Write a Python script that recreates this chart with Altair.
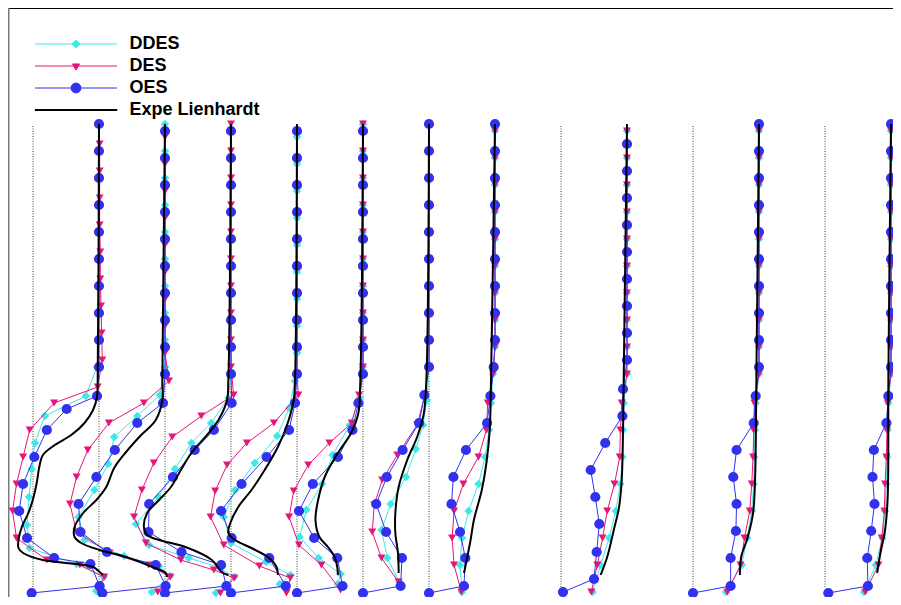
import altair as alt
import pandas as pd

# ---------------- data ----------------
SERIES = ["DDES", "DES", "OES", "Expe Lienhardt"]
COLORS = ["#3ee8e8", "#e6157a", "#3232ee", "#000000"]

# streamwise station positions (profile origin, in units of the velocity scale)
STATION_POS = [0, 1, 2, 3, 4, 5, 6, 8, 10, 12]

# height levels of the upper (free-stream) part of the profiles
GA = [46.9, 44.2, 41.5, 38.8, 36.1, 33.4, 30.7, 28.0, 25.3, 22.6]
GB = [46.2, 43.5, 40.8, 38.1, 35.4, 32.7, 30.0, 27.3, 24.6, 21.9]
GC = [44.9, 42.2, 39.5, 36.8, 34.1, 31.4, 28.7, 26.0, 23.3]
GD = [45.6, 42.9, 40.2, 37.5, 34.8, 32.1, 29.4, 26.7, 24.0]
U10 = [1.0, 1.0, 1.0, 1.0, 1.0, 1.0, 1.0, 1.0, 1.0, 1.0]
U9 = [1.0, 1.0, 1.0, 1.0, 1.0, 1.0, 1.0, 1.0, 1.0]
LOW8 = [19.0, 16.3, 13.6, 10.9, 8.2, 5.5, 2.8, 0.1]

S0 = {
    "OES": (GA + [19.7, 18.4, 16.3, 13.6, 10.9, 8.2, 5.5, 3.5, 2.9, 0.7, 0.0],
            U10 + [0.97, 0.51, 0.21, 0.02, -0.15, -0.21, -0.09, 0.32, 0.87, 1.01, -0.02]),
    "DES": (GC + [20.6, 19.0, 16.3, 13.6, 10.9, 8.2, 5.5, 3.3, 2.8, 1.6, 0.4],
            [1.01, 1.01, 1.01, 1.01, 1.02, 1.02, 1.03, 1.04, 1.05]
            + [0.98, 0.32, -0.05, -0.15, -0.25, -0.31, -0.25, 0.21, 0.71, 1.08, 0.98]),
    "DDES": (GA + [19.7, 17.7, 15.0, 12.4, 9.6, 6.8, 4.5, 2.9, 1.6, 0.2],
             U9 + [0.97] + [0.80, 0.18, 0.03, -0.02, -0.06, -0.09, -0.05, 0.66, 1.07, 0.96]),
    "Expe Lienhardt": ([46.9, 21.3, 19.6, 18.3, 17.0, 15.8, 14.8, 13.8, 12.6, 11.0, 9.5, 8.0,
                        6.6, 5.3, 4.5, 4.0, 3.3, 2.9, 2.6, 2.1, 1.8],
                       [1.0, 0.98, 0.97, 0.91, 0.78, 0.58, 0.33, 0.15, 0.095, 0.056, 0.005, -0.07,
                        -0.17, -0.22, -0.22, -0.15, 0.15, 0.66, 0.91, 1.01, 1.06]),
}
S1 = {
    "OES": (GB + [19.0, 17.0, 14.3, 11.6, 8.9, 6.1, 4.1, 2.8, 0.7, 0.0],
            U10 + [0.97, 0.58, 0.24, -0.04, -0.31, -0.28, 0.12, 0.86, 1.01, 0.05]),
    "DES": (GD + [21.2, 19.0, 17.0, 14.3, 11.6, 8.9, 6.1, 4.0, 2.8, 1.6, 0.1],
            U9 + [1.06, 0.68, 0.15, -0.17, -0.34, -0.44, -0.34, 0.16, 0.75, 1.08, 0.89]),
    "DDES": (GA + [19.8, 17.7, 15.6, 12.9, 10.3, 7.6, 5.3, 3.7, 2.7, 1.7, 0.1],
             U10 + [0.92, 0.58, 0.23, 0.14, -0.07, -0.31, -0.22, 0.38, 0.91, 1.08, 0.80]),
    "Expe Lienhardt": ([46.9, 21.3, 19.3, 17.3, 15.6, 14.1, 12.5, 10.6, 9.3, 8.0, 6.6, 5.6,
                        5.0, 4.3, 3.6, 2.6, 2.0, 1.6],
                       [1.0, 0.96, 0.96, 0.86, 0.61, 0.41, 0.23, 0.11, -0.04, -0.24, -0.37, -0.37,
                        -0.27, 0.01, 0.41, 0.81, 1.01, 1.03]),
}
S2 = {
    "OES": (GB + [19.0, 16.3, 14.3, 11.6, 8.9, 6.1, 4.1, 2.8, 0.7, 0.0],
            U10 + [1.01, 0.74, 0.45, 0.12, -0.24, -0.25, 0.25, 0.85, 0.93, 0.0]),
    "DES": (GA + [19.8, 17.7, 15.6, 13.0, 10.3, 7.6, 5.0, 3.3, 2.3, 1.5, 0.0],
            U10 + [1.04, 0.55, 0.11, -0.17, -0.35, -0.47, -0.29, 0.24, 0.74, 1.05, 0.84]),
    "DDES": (GB + [19.5, 17.0, 15.0, 12.4, 9.6, 6.9, 4.8, 3.5, 2.6, 1.6, 0.0],
             U10 + [0.96, 0.70, 0.40, 0.15, -0.10, -0.44, -0.24, 0.36, 0.81, 1.05, 0.77]),
    "Expe Lienhardt": ([46.9, 21.3, 19.3, 17.3, 15.6, 14.1, 12.3, 10.6, 9.3, 8.0, 6.6, 5.8,
                        5.3, 4.6, 3.3, 2.1, 1.8],
                       [1.0, 0.96, 0.94, 0.81, 0.61, 0.41, 0.24, 0.09, -0.09, -0.27, -0.32, -0.27,
                        -0.09, 0.31, 0.71, 0.86, 0.96]),
}
S3 = {
    "OES": (GB + [19.0, 16.3, 13.6, 10.9, 8.2, 5.5, 3.5, 0.7, 0.0],
            U10 + [0.97, 0.88, 0.54, 0.16, -0.15, 0.01, 0.58, 0.83, 0.0]),
    "DES": (GB + [19.8, 17.0, 15.0, 12.8, 10.2, 7.6, 4.8, 2.7, 1.5, 0.0],
            U10 + [1.02, 0.65, 0.24, -0.06, -0.24, -0.31, -0.11, 0.43, 0.90, 0.84]),
    "DDES": (GD + [21.2, 18.5, 15.7, 13.0, 10.3, 7.6, 5.0, 3.1, 1.8, 0.9],
             U9 + [0.97, 0.88, 0.70, 0.36, 0.06, -0.11, 0.0, 0.53, 0.90, 0.74]),
    "Expe Lienhardt": ([46.9, 21.3, 19.3, 17.0, 14.6, 12.3, 10.3, 8.6, 7.0, 6.0, 5.3, 4.5,
                        3.6, 2.6, 1.8],
                       [1.0, 0.97, 0.95, 0.86, 0.71, 0.51, 0.31, 0.11, -0.01, -0.04, 0.06, 0.31,
                        0.56, 0.69, 0.71]),
}
S4 = {
    "OES": (GB + [19.0, 16.3, 13.6, 10.9, 8.2, 5.5, 3.5, 0.7, 0.0],
            U10 + [0.93, 0.84, 0.62, 0.24, 0.03, 0.26, 0.61, 0.69, 0.0]),
    "DES": (GA + [19.8, 17.0, 15.0, 12.8, 10.2, 7.6, 4.8, 2.8, 0.3],
            U10 + [0.94, 0.83, 0.49, 0.17, -0.05, -0.12, 0.03, 0.37, 0.66]),
    "DDES": (GA + [19.5, 16.8, 13.8, 10.9, 8.3, 5.6, 3.5, 1.9, 0.9],
             U10 + [0.95, 0.80, 0.54, 0.38, 0.14, 0.04, 0.33, 0.66, 0.62]),
    "Expe Lienhardt": ([46.9, 21.3, 18.0, 16.0, 14.0, 11.6, 9.3, 7.3, 5.6, 4.6, 3.6, 2.6, 1.8],
                       [1.0, 0.96, 0.93, 0.82, 0.62, 0.42, 0.32, 0.28, 0.34, 0.47, 0.57, 0.61, 0.62]),
}
S5 = {
    "OES": (GA + [19.8, 17.0, 14.3, 11.6, 8.9, 6.1, 3.5, 0.7, 0.0],
            U10 + [0.93, 0.85, 0.60, 0.36, 0.20, 0.35, 0.59, 0.57, 0.0]),
    "DES": (GA + [19.8, 16.8, 13.8, 11.3, 8.8, 6.1, 3.5, 1.1],
            U10 + [0.94, 0.82, 0.52, 0.29, 0.17, 0.14, 0.28, 0.54]),
    "DDES": (GA + [19.3, 16.8, 14.4, 11.6, 8.9, 6.3, 3.5, 1.1],
             U10 + [0.97, 0.91, 0.80, 0.65, 0.42, 0.28, 0.37, 0.55]),
    "Expe Lienhardt": ([46.9, 21.3, 17.9, 15.6, 13.3, 10.6, 8.0, 6.0, 4.0, 2.0],
                       [1.0, 0.96, 0.92, 0.82, 0.67, 0.54, 0.49, 0.49, 0.53, 0.54]),
}
S6 = {
    "OES": (GA + [19.7, 17.0, 14.3, 11.6, 8.9, 6.1, 3.5, 0.7, 0.0],
            U9 + [0.98] + [0.93, 0.88, 0.56, 0.37, 0.34, 0.47, 0.55, 0.53, 0.0]),
    "DES": (GB + LOW8,
            U9 + [0.97] + [0.89, 0.87, 0.75, 0.52, 0.38, 0.35, 0.38, 0.49]),
    "DDES": (GB + LOW8,
             U9 + [0.97] + [0.94, 0.91, 0.85, 0.75, 0.60, 0.50, 0.47, 0.50]),
    "Expe Lienhardt": ([46.9, 21.3, 16.3, 13.0, 10.3, 7.3, 5.3, 3.6, 2.0],
                       [1.0, 0.94, 0.92, 0.87, 0.80, 0.68, 0.63, 0.58, 0.53]),
}
S7 = {
    "OES": (GC + [20.4, 17.7, 15.0, 12.3, 9.6, 6.9, 4.1, 1.4, 0.1],
            U9 + [0.94, 0.93, 0.67, 0.45, 0.52, 0.58, 0.54, 0.50, 0.03]),
    "DES": (GB + LOW8, U10 + [0.92, 0.90, 0.89, 0.81, 0.70, 0.63, 0.55, 0.46]),
    "DDES": (GB + LOW8, U10 + [0.95, 0.94, 0.93, 0.90, 0.83, 0.73, 0.60, 0.48]),
    "Expe Lienhardt": ([46.9, 21.3, 16.3, 11.3, 8.6, 6.3, 3.6, 1.8],
                       [1.0, 0.95, 0.94, 0.92, 0.88, 0.80, 0.70, 0.60]),
}
S8 = {
    "OES": (GA + [19.7, 17.0, 14.3, 11.6, 8.9, 6.2, 3.5, 0.7, 0.0],
            U10 + [0.95, 0.92, 0.66, 0.61, 0.66, 0.65, 0.57, 0.57, 0.0]),
    "DES": (GB + LOW8, U10 + [0.93, 0.92, 0.91, 0.89, 0.86, 0.78, 0.72, 0.52]),
    "DDES": (GB + LOW8, U10 + [0.95, 0.94, 0.93, 0.92, 0.89, 0.82, 0.74, 0.50]),
    "Expe Lienhardt": ([46.9, 21.3, 11.3, 8.0, 5.6, 3.6, 1.8],
                       [1.0, 0.96, 0.94, 0.91, 0.83, 0.73, 0.71]),
}
S9 = {
    "OES": (GA + [19.7, 17.0, 14.3, 11.6, 8.9, 6.2, 3.5, 0.7, 0.0],
            U10 + [0.96, 0.93, 0.74, 0.72, 0.75, 0.70, 0.64, 0.65, 0.05]),
    "DES": (GB + LOW8, U10 + [0.95, 0.94, 0.93, 0.91, 0.90, 0.86, 0.81, 0.61]),
    "DDES": (GB + LOW8, U10 + [0.96, 0.95, 0.94, 0.93, 0.91, 0.87, 0.77, 0.59]),
    "Expe Lienhardt": ([46.9, 21.3, 9.6, 6.3, 4.0, 2.0],
                       [1.0, 0.96, 0.95, 0.91, 0.84, 0.79]),
}
PROFILES = [S0, S1, S2, S3, S4, S5, S6, S7, S8, S9]

# dotted reference line (u = 0) extent
DOT_TOP = 46.7
DOT_BOTTOM = 0.5

# ---------------- build table ----------------
rows = []
for sid, (pos, prof) in enumerate(zip(STATION_POS, PROFILES)):
    for ser in SERIES:
        hs, us = prof[ser]
        if len(hs) != len(us):
            raise ValueError(f"length mismatch station {sid} {ser}: {len(hs)} vs {len(us)}")
        for i, (hh, uu) in enumerate(zip(hs, us)):
            rows.append({"station": sid, "series": ser, "idx": i, "h": hh, "x": pos + uu})
df = pd.DataFrame(rows)

dots = pd.DataFrame({"x": STATION_POS, "top": [DOT_TOP] * len(STATION_POS),
                     "bottom": [DOT_BOTTOM] * len(STATION_POS)})

W, H = 885, 585
XDOM = [-0.3788, 13.0303]
YDOM = [0.0, 58.5]
X = alt.X("x:Q", scale=alt.Scale(domain=XDOM, nice=False, zero=False), axis=None)
Y = alt.Y("h:Q", scale=alt.Scale(domain=YDOM, nice=False, zero=False), axis=None)

one = pd.DataFrame({"a": [0]})
frame_top = alt.Chart(one).mark_rule(color="black", strokeWidth=1).encode(
    x=alt.value(0), x2=alt.value(W), y=alt.value(0.5))
frame_left = alt.Chart(one).mark_rule(color="#7a7a7a", strokeWidth=1.5).encode(
    x=alt.value(0.75), y=alt.value(0), y2=alt.value(H + 4))

dotted = alt.Chart(dots).mark_rule(color="#3a3a3a", strokeWidth=1, strokeDash=[1, 1.5]).encode(
    x=X, y=alt.Y("top:Q", scale=alt.Scale(domain=YDOM, nice=False, zero=False), axis=None),
    y2="bottom:Q")

MARK = {"DDES": ("diamond", 72), "DES": ("triangle-down", 64), "OES": ("circle", 104)}
layers = [frame_top, frame_left, dotted]
for ser, col in zip(SERIES[:3], COLORS[:3]):
    d = df[df.series == ser]
    shape, size = MARK[ser]
    layers.append(alt.Chart(d).mark_line(color=col, strokeWidth=1).encode(
        x=X, y=Y, detail="station:N", order="idx:Q"))
    layers.append(alt.Chart(d).mark_point(shape=shape, filled=True, size=size, color=col,
                                          opacity=1, strokeWidth=0).encode(x=X, y=Y))
dexp = df[df.series == SERIES[3]]
layers.append(alt.Chart(dexp).mark_line(color="black", strokeWidth=2, interpolate="catmull-rom").encode(
    x=X, y=Y, detail="station:N", order="idx:Q"))

# legend: symbols are a line segment with the series' marker on it
PATHS = [
    "M-1,0H1M0,-0.1L0.1,0L0,0.1L-0.1,0Z",
    "M-1,0H1M-0.085,-0.05L0.085,-0.05L0,0.1Z",
    "M-1,0H1M-0.12,0A0.12,0.12 0 1 1 0.12,0A0.12,0.12 0 1 1 -0.12,0Z",
    "M-1,-0.012H1V0.012H-1Z",
]
leg_df = pd.DataFrame({"series": SERIES, "x": [-5.0, -5.0, -5.0, -5.0], "h": [-5.0, -5.0, -5.0, -5.0]})
LEG = alt.Legend(orient="none", legendX=26.5, legendY=25.1, title=None, padding=0,
                 symbolSize=6724, symbolStrokeWidth=1, symbolOffset=0,
                 labelFont="Liberation Sans", labelFontSize=18, labelFontWeight="bold",
                 labelColor="#000000", labelOffset=12, labelLimit=400,
                 clipHeight=21.8, rowPadding=0)
legend_layer = alt.Chart(leg_df).mark_point(filled=True, clip=True, opacity=1).encode(
    x=X, y=Y,
    shape=alt.Shape("series:N", scale=alt.Scale(domain=SERIES, range=PATHS), legend=LEG),
    fill=alt.Fill("series:N", scale=alt.Scale(domain=SERIES, range=COLORS), legend=LEG),
    stroke=alt.Stroke("series:N", scale=alt.Scale(domain=SERIES, range=COLORS), legend=LEG),
)
layers.append(legend_layer)

chart = alt.layer(*layers).properties(
    width=W, height=H,
    padding={"left": 0, "top": 0, "right": 0, "bottom": 4},
    autosize=alt.AutoSizeParams(type="none"),
    background="white",
).configure_view(stroke="transparent")

chart.save("out.html", embed_options={"renderer": "svg", "actions": False})
